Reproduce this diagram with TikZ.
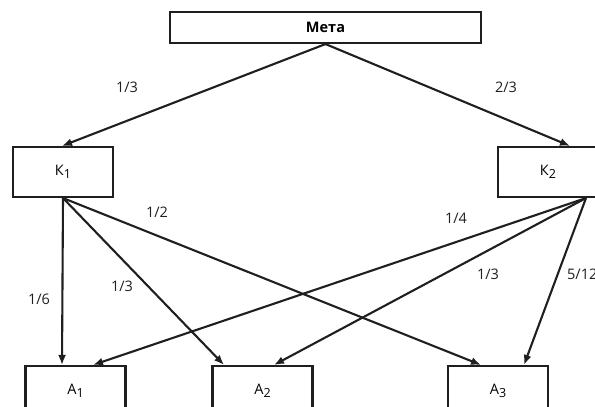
\documentclass[tikz,border=0pt]{standalone}
\usepackage{fontspec}
\setmainfont{Open Sans}
\usetikzlibrary{arrows.meta}
\newcommand{\lowsub}[1]{\raisebox{-0.35ex}{\fontsize{12.5}{13}\selectfont #1}}
\begin{document}
\begin{tikzpicture}[x=1pt,y=-1pt,
  every node/.style={font=\fontsize{14.5}{16}\selectfont},
  box/.style={draw=black!88, line width=2.1pt, rectangle, inner sep=0pt},
  cbox/.style={box, minimum width=100, minimum height=50},
  edge/.style={draw=black!88, line width=2.1pt, -{Latex[length=10pt,width=8pt]}},
  lab/.style={inner sep=0pt, text=black!88}]
\useasboundingbox (0,0) rectangle (595,407);
\clip (0,0) rectangle (595,407);
\node[box, minimum width=311, minimum height=31] (meta) at (325.5,27.5) {\bfseries Мета};
\node[cbox] (K1) at (63,172) {К\lowsub{1}};
\node[cbox] (K2) at (548,172) {К\lowsub{2}};
\node[cbox] (A1) at (75.5,391) {А\lowsub{1}};
\node[cbox] (A2) at (262.5,391) {А\lowsub{2}};
\node[cbox] (A3) at (498,391) {А\lowsub{3}};
\coordinate (K2s) at ([xshift=38]K2.south);
\draw[edge] (meta.south) -- ([xshift=-1]K1.north);
\draw[edge] (meta.south) -- ([xshift=22]K2.north);
\draw[edge] (K1.south) -- ([xshift=-13.5]A1.north);
\draw[edge] (K1.south) -- ([xshift=-38.5]A2.north);
\draw[edge] (K1.south) -- ([xshift=-17]A3.north);
\draw[edge] (K2s) -- ([xshift=17.5]A1.north);
\draw[edge] (K2s) -- ([xshift=11.5]A2.north);
\draw[edge] (K2s) -- ([xshift=26]A3.north);
\node[lab] (l1) at (127,87) {1/3};
\node[lab] (l2) at (506,87) {2/3};
\node[lab] (l3) at (157,212) {1/2};
\node[lab] (l4) at (456,218) {1/4};
\node[lab] (l5) at (39,299) {1/6};
\node[lab] (l6) at (122,286) {1/3};
\node[lab] (l7) at (488,274) {1/3};
\node[lab, anchor=west] (l8) at (567,274) {5/12};
\end{tikzpicture}
\end{document}
